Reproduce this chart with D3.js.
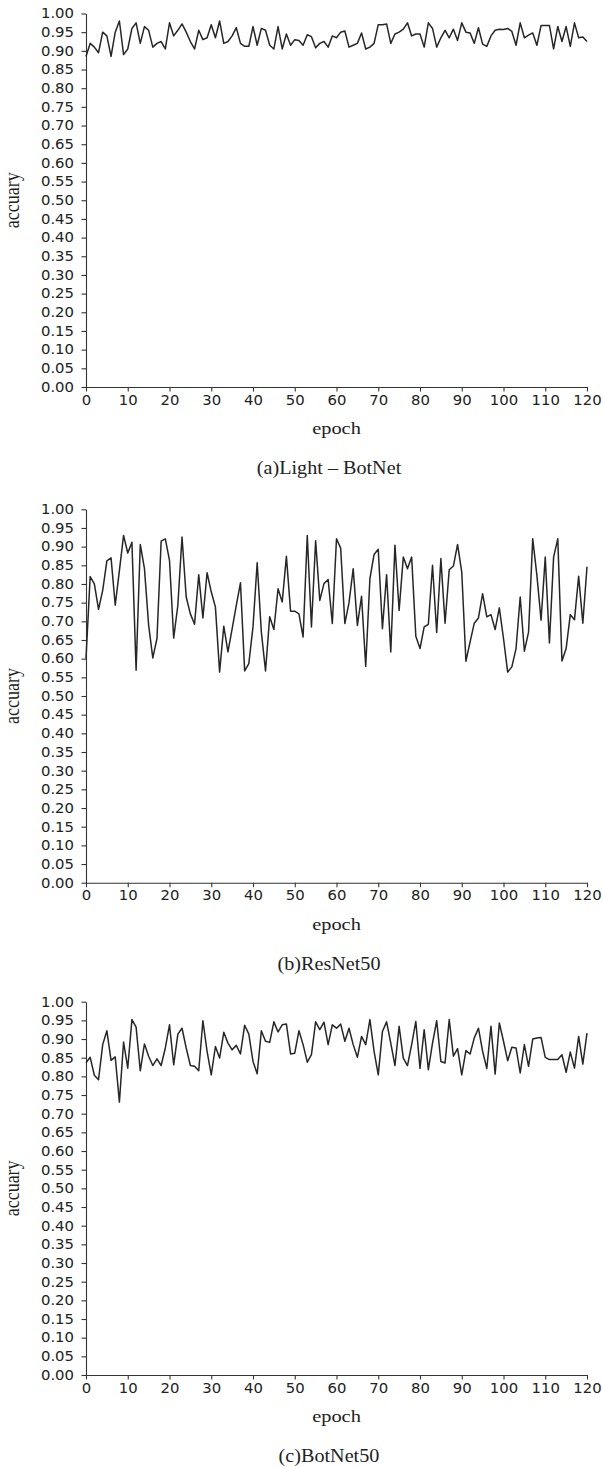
<!DOCTYPE html>
<html>
<head>
<meta charset="utf-8">
<script src="https://cdn.jsdelivr.net/npm/d3@7"></script>
<style>
  html, body { margin: 0; padding: 0; background: #fff; }
  svg { display: block; }
</style>
</head>
<body>
<div id="chart"></div>
<script>
// ---------- data ----------
const xTickValues = [0, 10, 20, 30, 40, 50, 60, 70, 80, 90, 100, 110, 120];
const yTickValues = [0.00, 0.05, 0.10, 0.15, 0.20, 0.25, 0.30, 0.35, 0.40, 0.45, 0.50,
                     0.55, 0.60, 0.65, 0.70, 0.75, 0.80, 0.85, 0.90, 0.95, 1.00];

const lightBotNet = [
  0.885,0.92,0.91,0.895,0.95,0.94,0.885,0.95,0.98,0.89,
  0.905,0.96,0.975,0.92,0.965,0.955,0.91,0.92,0.925,0.905,
  0.975,0.94,0.955,0.972,0.95,0.925,0.905,0.955,0.93,0.935,
  0.97,0.935,0.98,0.92,0.925,0.94,0.962,0.92,0.912,0.912,
  0.965,0.915,0.96,0.955,0.915,0.905,0.965,0.905,0.945,0.915,
  0.93,0.928,0.915,0.943,0.938,0.908,0.92,0.925,0.91,0.94,
  0.935,0.95,0.953,0.91,0.915,0.92,0.948,0.905,0.91,0.92,
  0.97,0.97,0.972,0.92,0.945,0.95,0.958,0.975,0.94,0.945,
  0.945,0.91,0.975,0.96,0.91,0.935,0.955,0.935,0.958,0.928,
  0.975,0.95,0.948,0.92,0.962,0.918,0.912,0.94,0.955,0.958,
  0.957,0.96,0.952,0.915,0.975,0.935,0.942,0.948,0.915,0.968,
  0.968,0.968,0.905,0.965,0.925,0.965,0.912,0.975,0.935,0.937,
  0.925
];

const resNet50 = [
  0.60,0.82,0.80,0.732,0.783,0.862,0.87,0.743,0.836,0.93,
  0.883,0.912,0.569,0.906,0.841,0.69,0.602,0.654,0.915,0.921,
  0.863,0.655,0.743,0.926,0.765,0.72,0.692,0.825,0.709,0.83,
  0.779,0.738,0.564,0.687,0.618,0.68,0.743,0.803,0.567,0.587,
  0.685,0.857,0.671,0.567,0.712,0.678,0.787,0.752,0.874,0.727,
  0.727,0.72,0.658,0.93,0.685,0.916,0.756,0.801,0.812,0.694,
  0.921,0.896,0.694,0.75,0.841,0.689,0.767,0.579,0.814,0.879,
  0.893,0.68,0.825,0.618,0.904,0.729,0.872,0.841,0.872,0.66,
  0.627,0.685,0.692,0.85,0.67,0.868,0.695,0.838,0.848,0.906,
  0.832,0.593,0.645,0.695,0.709,0.774,0.712,0.718,0.678,0.736,
  0.654,0.564,0.578,0.627,0.765,0.62,0.671,0.921,0.823,0.703,
  0.872,0.642,0.872,0.921,0.594,0.627,0.718,0.704,0.821,0.695,
  0.846
];

const botNet50 = [
  0.836,0.851,0.803,0.791,0.885,0.922,0.843,0.852,0.731,0.892,
  0.822,0.952,0.932,0.815,0.887,0.854,0.829,0.847,0.829,0.876,
  0.938,0.831,0.913,0.929,0.876,0.829,0.827,0.815,0.949,0.867,
  0.804,0.88,0.849,0.918,0.889,0.871,0.883,0.86,0.937,0.913,
  0.84,0.807,0.922,0.894,0.891,0.946,0.919,0.938,0.94,0.86,
  0.862,0.922,0.885,0.838,0.858,0.946,0.925,0.945,0.885,0.938,
  0.929,0.94,0.894,0.929,0.885,0.851,0.907,0.885,0.952,0.867,
  0.804,0.92,0.946,0.889,0.829,0.934,0.849,0.829,0.885,0.947,
  0.821,0.925,0.818,0.889,0.949,0.84,0.836,0.952,0.854,0.874,
  0.804,0.869,0.86,0.903,0.929,0.867,0.821,0.934,0.806,0.943,
  0.894,0.842,0.878,0.876,0.809,0.885,0.827,0.9,0.903,0.904,
  0.851,0.845,0.845,0.845,0.858,0.811,0.865,0.822,0.907,0.833,
  0.916
];

const captions = ["(a)Light – BotNet", "(b)ResNet50", "(c)BotNet50"];
const xLabel = "epoch";
const yLabel = "accuary";

// ---------- layout ----------
const W = 603, H = 1467;
const panels = [
  { data: lightBotNet, top: 13.5,   bottom: 387,  caption: captions[0] },
  { data: resNet50,    top: 509.3,  bottom: 882.7, caption: captions[1] },
  { data: botNet50,    top: 1001.7, bottom: 1375, caption: captions[2] }
];
const xLeft = 86, xRight = 587;
const SX = 1.1;           // slight horizontal stretch of the reference image
const axisColor = "#333";
const textColor = "#222";

const svg = d3.select("#chart").append("svg")
  .attr("width", W).attr("height", H)
  .attr("viewBox", `0 0 ${W} ${H}`);
svg.append("rect").attr("width", W).attr("height", H).attr("fill", "#fff");

function stretchedText(g, x, y, str, opts) {
  return g.append("text")
    .attr("transform", `translate(${x},${y}) scale(${opts.sx},1)` + (opts.rotate ? ` rotate(${opts.rotate})` : ""))
    .attr("text-anchor", opts.anchor || "middle")
    .attr("font-family", opts.family)
    .attr("font-size", opts.size)
    .attr("fill", textColor)
    .text(str);
}

const x = d3.scaleLinear().domain([0, 120]).range([xLeft, xRight]);

panels.forEach(p => {
  const g = svg.append("g");
  const y = d3.scaleLinear().domain([0, 1]).range([p.bottom, p.top]);
  const epochs = p.data.map((_, i) => i);

  // y axis
  const ya = g.append("g")
    .attr("transform", `translate(${xLeft},0)`)
    .call(d3.axisLeft(y).tickValues(yTickValues).tickFormat(d3.format(".2f"))
      .tickSize(4.5).tickSizeOuter(0).tickPadding(0));
  ya.select(".domain").attr("stroke", axisColor).attr("stroke-width", 1.1);
  ya.selectAll(".tick line").attr("stroke", axisColor).attr("stroke-width", 1.1);
  ya.selectAll(".tick text")
    .attr("font-family", "DejaVu Sans").attr("font-size", 13.5)
    .attr("fill", textColor)
    .attr("x", -12 / SX)
    .attr("transform", `scale(${SX},1)`);

  // x axis
  const xa = g.append("g")
    .attr("transform", `translate(0,${p.bottom})`)
    .call(d3.axisBottom(x).tickValues(xTickValues).tickFormat(d3.format("d"))
      .tickSize(4.5).tickSizeOuter(0).tickPadding(3.5));
  xa.select(".domain").attr("stroke", axisColor).attr("stroke-width", 1.1);
  xa.selectAll(".tick line").attr("stroke", axisColor).attr("stroke-width", 1.1);
  xa.selectAll(".tick text")
    .attr("font-family", "DejaVu Sans").attr("font-size", 13.5)
    .attr("fill", textColor)
    .attr("transform", `scale(${SX},1)`);

  // line
  const line = d3.line().x((d, i) => x(epochs[i])).y(d => y(d));
  g.append("path").datum(p.data)
    .attr("fill", "none")
    .attr("stroke", "#262626")
    .attr("stroke-width", 1.5)
    .attr("stroke-linejoin", "round")
    .attr("d", line);

  // labels
  stretchedText(g, (xLeft + xRight) / 2, p.bottom + 47, xLabel,
    { sx: 1.2, family: "Liberation Serif", size: 17 });
  stretchedText(g, 18.5, (p.top + p.bottom) / 2, yLabel,
    { sx: 1.15, family: "Liberation Serif", size: 18, rotate: -90 });
  stretchedText(g, 329, p.bottom + 87, p.caption,
    { sx: 1.12, family: "Liberation Serif", size: 18 });
});
</script>
</body>
</html>
